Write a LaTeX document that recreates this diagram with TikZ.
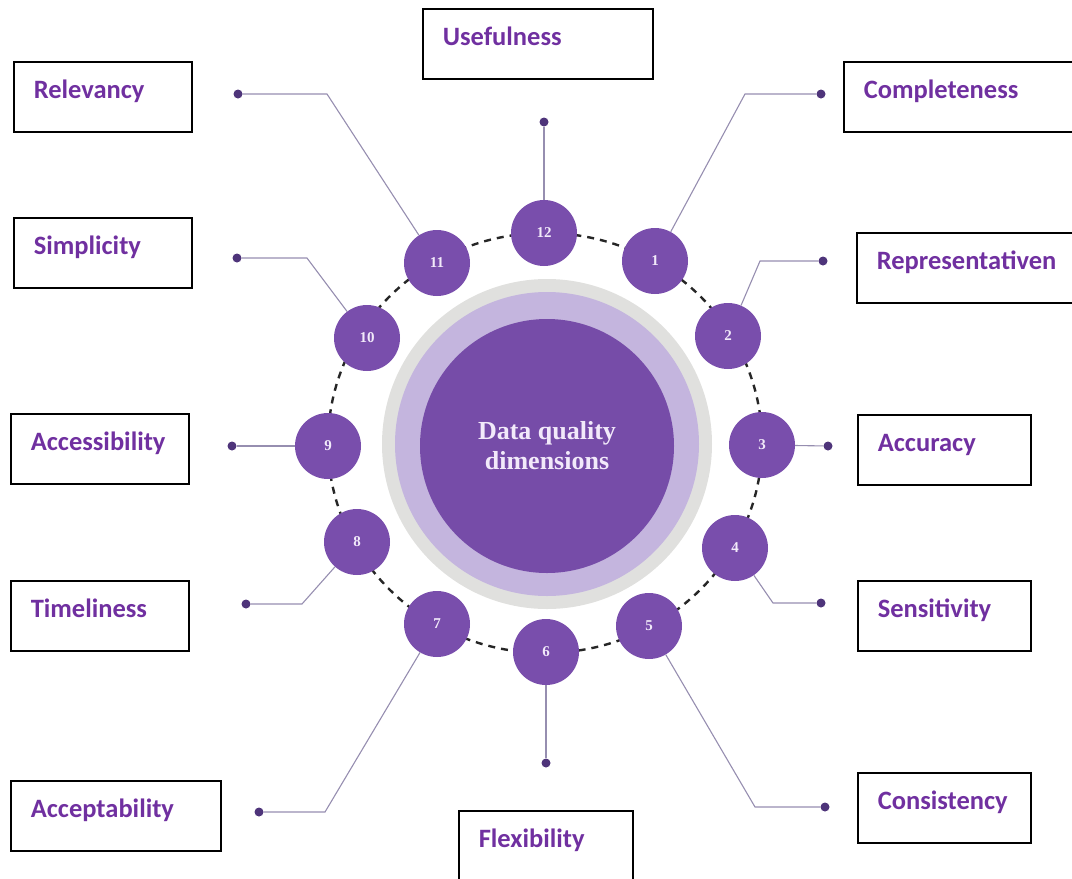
\documentclass[tikz,border=0pt]{standalone}
\usepackage{fontspec}
\newfontfamily\boxfont{Carlito}
\newfontfamily\numfont{Liberation Serif}
\definecolor{dqpurple}{RGB}{121,78,172}
\definecolor{corepurple}{RGB}{118,76,168}
\definecolor{ringlilac}{RGB}{196,181,222}
\definecolor{ringgray}{RGB}{224,224,222}
\definecolor{labelpurple}{RGB}{112,48,160}
\definecolor{numwhite}{RGB}{242,234,250}
\definecolor{leadgray}{RGB}{150,142,176}
\definecolor{dotpurple}{RGB}{78,52,122}
\begin{document}
\begin{tikzpicture}[x=1pt, y=-1pt,
  num/.style={circle, fill=dqpurple, minimum size=66pt, inner sep=0pt, text=numwhite, font=\numfont\bfseries\fontsize{15}{15}\selectfont},
  dot/.style={circle, fill=dotpurple, minimum size=9pt, inner sep=0pt},
  lead/.style={draw=leadgray, line width=1.1pt},
  dimbox/.style={draw=black, line width=1.6pt, anchor=north west, inner xsep=20pt, inner ysep=4pt, text height=33pt, text depth=29pt, align=left, text=labelpurple, font=\boxfont\bfseries\fontsize{26.5}{28}\selectfont}]
\useasboundingbox (0,0) rectangle (1072,879);
% centre
\node (ringout) at (547,444) [circle, fill=ringgray, minimum size=330pt] {};
\node (ringin) at (547,444) [circle, fill=ringlilac, minimum size=304pt] {};
\node (core) at (547,446) [circle, fill=corepurple, minimum size=254pt, align=center, text=numwhite, font=\numfont\bfseries\fontsize{26}{30}\selectfont] {Data quality\\dimensions};
\draw[black!85, line width=2.4pt, dash pattern=on 7pt off 6pt] (545,443) ellipse [x radius=217pt, y radius=210pt];
% numbered circles
\node[num] (n12) at (544,233) {12};
\node[num] (n1) at (655,261) {1};
\node[num] (n2) at (728,336) {2};
\node[num] (n3) at (762,445) {3};
\node[num] (n4) at (735,548) {4};
\node[num] (n5) at (649,626) {5};
\node[num] (n6) at (546,652) {6};
\node[num] (n7) at (437,624) {7};
\node[num] (n8) at (357,542) {8};
\node[num] (n9) at (328,446) {9};
\node[num] (n10) at (367,338) {10};
\node[num] (n11) at (437,263) {11};
% dots and bends
\node[dot] (d12) at (544,122) {};
\node[dot] (d1) at (821,94) {};
\coordinate (b1) at (745,94);
\node[dot] (d2) at (823,261) {};
\coordinate (b2) at (760,261);
\node[dot] (d3) at (828,446) {};
\node[dot] (d4) at (821,603) {};
\coordinate (b4) at (773,603);
\node[dot] (d5) at (825,807) {};
\coordinate (b5) at (755,807);
\node[dot] (d6) at (546,763) {};
\node[dot] (d7) at (259,812) {};
\coordinate (b7) at (325,812);
\node[dot] (d8) at (246,604) {};
\coordinate (b8) at (302,604);
\node[dot] (d9) at (232,446) {};
\node[dot] (d10) at (237,258) {};
\coordinate (b10) at (307,258);
\node[dot] (d11) at (238,94) {};
\coordinate (b11) at (327,94);
% leaders
\draw[lead] (n12) -- (d12);
\draw[lead] (n1) -- (b1) -- (d1);
\draw[lead] (n2) -- (b2) -- (d2);
\draw[lead] (n3) -- (d3);
\draw[lead] (n4) -- (b4) -- (d4);
\draw[lead] (n5) -- (b5) -- (d5);
\draw[lead] (n6) -- (d6);
\draw[lead] (n7) -- (b7) -- (d7);
\draw[lead] (n8) -- (b8) -- (d8);
\draw[lead] (n9) -- (d9);
\draw[lead] (n10) -- (b10) -- (d10);
\draw[lead] (n11) -- (b11) -- (d11);
% labels
\node[dimbox, text width=190pt] (useful) at (422,8) {Usefulness};
\node[dimbox, text width=197pt] (complete) at (843,61) {Completeness};
\node[dimbox, text width=189pt] (repres) at (856,232) {Representativen};
\node[dimbox, text width=133pt] (accur) at (857,414) {Accuracy};
\node[dimbox, text width=133pt] (sensit) at (857,580) {Sensitivity};
\node[dimbox, text width=133pt] (consist) at (857,772) {Consistency};
\node[dimbox, text width=134pt, text depth=35pt] (flex) at (458,810) {Flexibility};
\node[dimbox, text width=170pt] (accept) at (10,780) {Acceptability};
\node[dimbox, text width=138pt] (timely) at (10,580) {Timeliness};
\node[dimbox, text width=138pt] (access) at (10,413) {Accessibility};
\node[dimbox, text width=138pt] (simple) at (13,217) {Simplicity};
\node[dimbox, text width=138pt] (relev) at (13,61) {Relevancy};
\end{tikzpicture}
\end{document}
